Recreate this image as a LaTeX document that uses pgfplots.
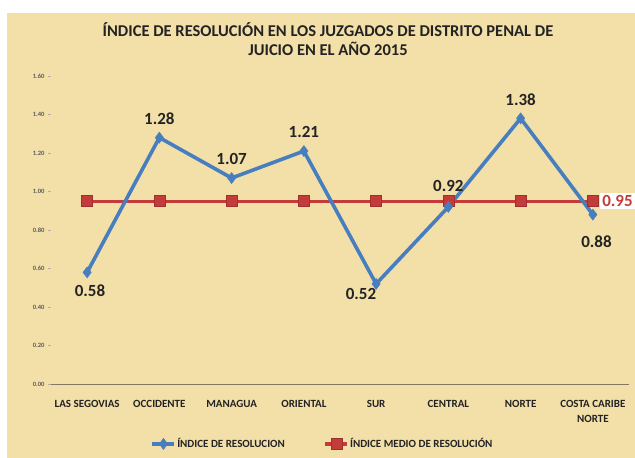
\documentclass[border=0pt]{standalone}
\usepackage{pgfplots}
\pgfplotsset{compat=1.18}
\usepackage{fontspec}
\setmainfont{Carlito}
\definecolor{bg}{RGB}{243,223,168}
\definecolor{serblue}{RGB}{70,126,192}
\definecolor{serred}{RGB}{196,60,58}
\definecolor{txt}{RGB}{35,35,35}
\definecolor{axgray}{RGB}{130,120,100}
\begin{document}
\begin{tikzpicture}[x=1pt,y=1pt]
\fill[white] (0,0) rectangle (635,458);
\fill[bg] (7,0) rectangle (635,445);
\node[font=\fontsize{16.5}{19}\selectfont\bfseries, text=txt, align=center] at (328,418.5)
  {ÍNDICE DE RESOLUCIÓN EN LOS JUZGADOS DE DISTRITO PENAL DE\\JUICIO EN EL AÑO 2015};
\begin{axis}[
  at={(51pt,74pt)}, anchor=south west,
  scale only axis, width=578pt, height=308pt,
  xmin=-0.5, xmax=7.5, ymin=0, ymax=1.6,
  axis x line*=bottom, axis y line*=left,
  y axis line style={draw=none},
  x axis line style={draw=axgray, line width=0.8pt, -},
  ytick={0,0.2,0.4,0.6,0.8,1.0,1.2,1.4,1.6},
  yticklabel style={font=\fontsize{6.5}{7}\selectfont\bfseries, text=txt!75, /pgf/number format/fixed, /pgf/number format/precision=2, /pgf/number format/fixed zerofill},
  /pgf/number format/assume math mode=true,
  ytick style={draw=axgray!60, line width=0.4pt},
  major tick length=3pt, tick align=outside,
  xtick={0,...,7},
  x tick style={draw=none},
  xticklabels={LAS SEGOVIAS, OCCIDENTE, MANAGUA, ORIENTAL, SUR, CENTRAL, NORTE, {COSTA CARIBE\\NORTE}},
  xticklabel style={font=\fontsize{11}{15}\selectfont\bfseries, text=txt, align=center, yshift=-10pt},
  extra x ticks={-0.5,0.5,1.5,2.5,3.5,4.5,5.5,6.5,7.5},
  extra x tick labels={},
  extra x tick style={tick style={draw=axgray, line width=0.6pt}, major tick length=4pt},
  clip=false,
  legend style={at={(0.469,-0.17)}, anchor=north, draw=none, fill=none, legend columns=2,
    font=\fontsize{11}{12}\selectfont\bfseries, text=txt, /tikz/every even column/.append style={column sep=38pt},
    inner sep=0pt, nodes={inner xsep=1pt}},
  legend image code/.code={\draw[mark repeat=2, mark phase=2, #1] plot coordinates {(0pt,0pt) (11pt,0pt) (22pt,0pt)};},
  legend cell align=left,
  reverse legend,
]
\addplot[color=serred, line width=3.2pt, mark=square*, mark size=5.5pt, mark options={fill=serred, draw=serred!80!black, line width=0.5pt}]
  coordinates {(0,0.95) (1,0.95) (2,0.95) (3,0.95) (4,0.95) (5,0.95) (6,0.95) (7,0.95)};
\addplot[color=serblue, line width=3.6pt, mark=diamond*, mark size=5.5pt, mark options={fill=serblue, draw=serblue, line width=0.5pt}]
  coordinates {(0,0.58) (1,1.28) (2,1.07) (3,1.21) (4,0.52) (5,0.92) (6,1.38) (7,0.88)};
\legend{ÍNDICE MEDIO DE RESOLUCIÓN, ÍNDICE DE RESOLUCION}
\begin{scope}[every node/.style={font=\fontsize{17}{18}\selectfont\bfseries, text=txt}]
\node at (axis cs:0.04,0.58) [yshift=-18pt] {0.58};
\node at (axis cs:1,1.28) [yshift=19pt] {1.28};
\node at (axis cs:2,1.07) [yshift=19pt] {1.07};
\node at (axis cs:3,1.21) [yshift=19pt] {1.21};
\node at (axis cs:3.79,0.52) [yshift=-10pt] {0.52};
\node at (axis cs:5,0.92) [yshift=21pt] {0.92};
\node at (axis cs:6,1.38) [yshift=19pt] {1.38};
\node at (axis cs:7.05,0.88) [yshift=-27pt] {0.88};
\node[fill=white, text=serred, inner sep=2pt, anchor=west] at (axis cs:7.1,0.95) {0.95};
\end{scope}
\end{axis}
\end{tikzpicture}
\end{document}
